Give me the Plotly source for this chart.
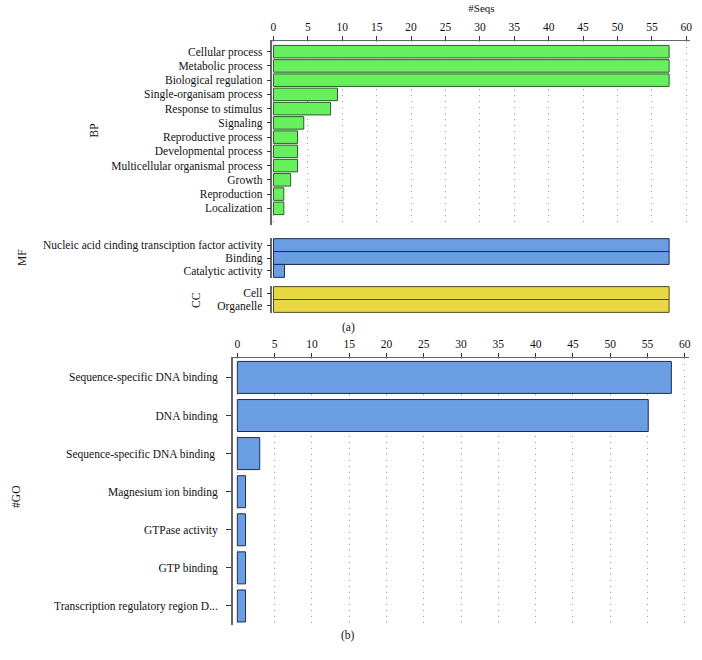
import plotly.graph_objects as go

# ---------------- data ----------------
bp_terms = ["Cellular process", "Metabolic process", "Biological regulation",
            "Single-organisam process", "Response to stimulus", "Signaling",
            "Reproductive process", "Developmental process",
            "Multicellular organismal process", "Growth", "Reproduction", "Localization"]
bp_values = [57.5, 57.5, 57.5, 9.3, 8.3, 4.4, 3.5, 3.5, 3.5, 2.5, 1.5, 1.5]

mf_terms = ["Nucleic acid cinding transciption factor activity", "Binding", "Catalytic activity"]
mf_values = [57.5, 57.5, 1.6]

cc_terms = ["Cell", "Organelle"]
cc_values = [57.5, 57.5]

go_terms = ["Sequence-specific DNA binding", "DNA binding", "Sequence-specific DNA binding ",
            "Magnesium ion binding", "GTPase activity", "GTP binding",
            "Transcription regulatory region D..."]
go_values = [58.2, 55.1, 3.0, 1.1, 1.1, 1.1, 1.1]

x_ticks = [0, 5, 10, 15, 20, 25, 30, 35, 40, 45, 50, 55, 60]

# ---------------- style ----------------
W, H = 702, 660
FONT = "Liberation Serif"
GREEN, GREEN_LINE = "#66F05E", "#2F5A2C"
BLUE, BLUE_LINE = "#6A9DE2", "#1E2D4E"
YELLOW, YELLOW_LINE = "#E8D944", "#4D4820"
AXIS_COL = "#666666"
GRID_COL = "#9a9a9a"
GRID_DASH = "1px,5px"


def px_x(p):
    return p / W


def px_y(p):
    return 1 - p / H


fig = go.Figure()

fig.add_trace(go.Bar(x=bp_values, y=bp_terms, orientation="h", xaxis="x", yaxis="y",
                     marker=dict(color=GREEN, line=dict(color=GREEN_LINE, width=1)),
                     width=0.88, showlegend=False))
fig.add_trace(go.Bar(x=mf_values, y=mf_terms, orientation="h", xaxis="x2", yaxis="y2",
                     marker=dict(color=BLUE, line=dict(color=BLUE_LINE, width=1)),
                     width=1.0, showlegend=False))
fig.add_trace(go.Bar(x=cc_values, y=cc_terms, orientation="h", xaxis="x3", yaxis="y3",
                     marker=dict(color=YELLOW, line=dict(color=YELLOW_LINE, width=1)),
                     width=1.0, showlegend=False))
fig.add_trace(go.Bar(x=go_values, y=go_terms, orientation="h", xaxis="x4", yaxis="y4",
                     marker=dict(color=BLUE, line=dict(color=BLUE_LINE, width=1)),
                     width=0.84, showlegend=False))

tickfont = dict(family=FONT, size=11.5, color="#111111")

xa_dom = [px_x(272), px_x(692.4)]
xa_range = [-0.15, 60.6]
common_x_hidden = dict(domain=xa_dom, range=xa_range, visible=False, showgrid=False, zeroline=False)

yaxis_common = dict(type="category", showline=True, linecolor=AXIS_COL, linewidth=1.5,
                    ticks="outside", ticklen=4, tickcolor="#333333", tickfont=tickfont,
                    showgrid=False, zeroline=False, fixedrange=True, tickmode="array",
                    ticklabelstandoff=2)

fig.update_layout(
    width=W, height=H,
    margin=dict(l=0, r=0, t=0, b=0),
    paper_bgcolor="white", plot_bgcolor="white",
    font=dict(family=FONT, size=11, color="#111111"),
    bargap=0.1,
    xaxis=dict(domain=xa_dom, range=xa_range, anchor="y", side="top",
               tickvals=x_ticks, ticks="outside", ticklen=4, tickcolor="#333333",
               showline=True, linecolor=AXIS_COL, linewidth=1,
               showgrid=True, gridcolor=GRID_COL, griddash=GRID_DASH, gridwidth=1,
               zeroline=False, tickfont=tickfont,
               title=dict(text="#Seqs", font=dict(family=FONT, size=11), standoff=6)),
    yaxis=dict(yaxis_common, domain=[px_y(225), px_y(41)], anchor="x",
               categoryorder="array", categoryarray=bp_terms, tickvals=bp_terms,
               range=[12.17, -0.75]),
    xaxis2=dict(common_x_hidden, anchor="y2"),
    yaxis2=dict(yaxis_common, domain=[px_y(278), px_y(238)], anchor="x2",
                categoryorder="array", categoryarray=mf_terms, tickvals=mf_terms,
                range=[2.55, -0.55]),
    xaxis3=dict(common_x_hidden, anchor="y3"),
    yaxis3=dict(yaxis_common, domain=[px_y(313), px_y(286)], anchor="x3",
                categoryorder="array", categoryarray=cc_terms, tickvals=cc_terms,
                range=[1.55, -0.55]),
    xaxis4=dict(domain=[px_x(232.2), px_x(691.2)], range=[-0.6, 60.6], anchor="y4", side="top",
                tickvals=x_ticks, ticks="outside", ticklen=4, tickcolor="#333333",
                showline=True, linecolor=AXIS_COL, linewidth=1,
                showgrid=True, gridcolor=GRID_COL, griddash=GRID_DASH, gridwidth=1,
                zeroline=False, tickfont=tickfont),
    yaxis4=dict(yaxis_common, domain=[px_y(625), px_y(358)], anchor="x4",
                categoryorder="array", categoryarray=go_terms, tickvals=go_terms,
                range=[6.5, -0.51], ticklen=5, ticklabelstandoff=6),
)

ann_font = dict(family=FONT, size=11.5, color="#111111")
annotations = [
    dict(text="BP", x=px_x(93), y=px_y(130), textangle=-90),
    dict(text="MF", x=px_x(20), y=px_y(257), textangle=-90),
    dict(text="CC", x=px_x(195), y=px_y(300), textangle=-90),
    dict(text="#GO", x=px_x(14), y=px_y(497), textangle=-90),
    dict(text="(a)", x=px_x(348), y=px_y(327), textangle=0),
    dict(text="(b)", x=px_x(348), y=px_y(635), textangle=0),
]
for a in annotations:
    fig.add_annotation(xref="paper", yref="paper", showarrow=False,
                       xanchor="center", yanchor="middle", font=ann_font, **a)

fig.write_html("out.html", config={"displayModeBar": False},
               post_script="document.body.style.margin='0';document.body.style.overflow='hidden';")
